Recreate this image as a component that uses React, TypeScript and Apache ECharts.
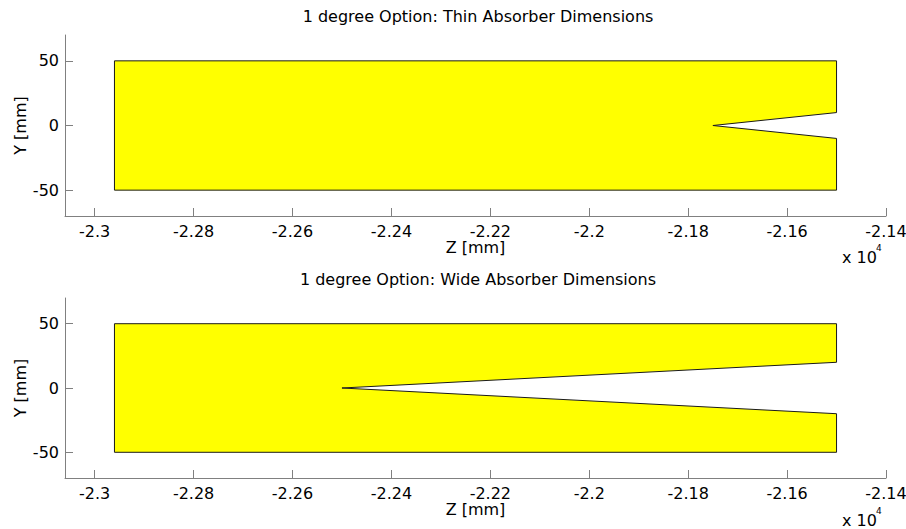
import React, { useEffect, useRef } from "react";
import * as echarts from "echarts";

const titles = [
  "1 degree Option: Thin Absorber Dimensions",
  "1 degree Option: Wide Absorber Dimensions",
];
const xTickValues = [-23000, -22800, -22600, -22400, -22200, -22000, -21800, -21600, -21400];
const xTickLabels = ["-2.3", "-2.28", "-2.26", "-2.24", "-2.22", "-2.2", "-2.18", "-2.16", "-2.14"];
const yTickValues = [-50, 0, 50];
const yTickLabels = ["-50", "0", "50"];

const thinZ = [-22960, -21500, -21500, -21750, -21500, -21500, -22960];
const thinY = [50, 50, 10, 0, -10, -50, -50];
const wideZ = [-22960, -21500, -21500, -22500, -21500, -21500, -22960];
const wideY = [50, 50, 20, 0, -20, -50, -50];

const FONT = "DejaVu Sans";
const FS = 16;

export default function App() {
  const ref = useRef<HTMLDivElement>(null);
  useEffect(() => {
    const chart = echarts.init(ref.current!, null, { renderer: "svg" });
    const grids = [
      { left: 65, right: 20, top: 35, height: 181, outerBoundsMode: "none", containLabel: false },
      { left: 65, right: 20, top: 298, height: 180, outerBoundsMode: "none", containLabel: false },
    ];
    const mkX = (i: number) => ({
      type: "value",
      gridIndex: i,
      min: -23060,
      max: -21400,
      name: "Z [mm]",
      nameLocation: "middle",
      nameGap: 21,
      nameTextStyle: { color: "#000", fontFamily: FONT, fontSize: FS },
      splitLine: { show: false },
      axisLine: { show: true, onZero: false, lineStyle: { color: "#808080", width: 1 } },
      axisTick: {
        show: true,
        inside: true,
        length: 8,
        customValues: xTickValues,
        lineStyle: { color: "#808080" },
      },
      axisLabel: {
        customValues: xTickValues,
        color: "#000",
        fontFamily: FONT,
        fontSize: FS,
        margin: 7,
        hideOverlap: false,
        formatter: (v: number) => {
          const k = xTickValues.findIndex((t) => Math.abs(t - v) < 1e-6);
          return k >= 0 ? xTickLabels[k] : "";
        },
      },
    });
    const mkY = (i: number) => ({
      type: "value",
      gridIndex: i,
      min: -70,
      max: 70,
      name: "Y [mm]",
      nameLocation: "middle",
      nameGap: 37,
      nameMoveOverlap: false,
      nameTextStyle: { color: "#000", fontFamily: FONT, fontSize: FS },
      splitLine: { show: false },
      axisLine: { show: true, onZero: false, lineStyle: { color: "#808080", width: 1 } },
      axisTick: {
        show: true,
        inside: true,
        length: 8,
        customValues: yTickValues,
        lineStyle: { color: "#808080" },
      },
      axisLabel: {
        customValues: yTickValues,
        color: "#000",
        fontFamily: FONT,
        fontSize: FS,
        margin: 6,
        formatter: (v: number) => {
          const k = yTickValues.findIndex((t) => Math.abs(t - v) < 1e-6);
          return k >= 0 ? yTickLabels[k] : "";
        },
      },
    });
    const mkSeries = (i: number, zs: number[], ys: number[]) => ({
      type: "custom",
      xAxisIndex: i,
      yAxisIndex: i,
      silent: true,
      data: [[zs[0], ys[0]]],
      renderItem: (_p: any, api: any) => {
        const points = zs.map((z, k) => api.coord([z, ys[k]]));
        return {
          type: "polygon",
          shape: { points },
          style: { fill: "#ffff00", stroke: "#1a1a1a", lineWidth: 1 },
        };
      },
    });
    const expo = (top: number) => [
      {
        type: "text",
        left: 842,
        top: top,
        style: { text: "x 10", fontFamily: FONT, fontSize: FS, fill: "#000" },
      },
      {
        type: "text",
        left: 876,
        top: top - 6,
        style: { text: "4", fontFamily: FONT, fontSize: 9, fill: "#000" },
      },
    ];
    chart.setOption({
      animation: false,
      backgroundColor: "#fff",
      title: [
        {
          text: titles[0],
          left: 473,
          textAlign: "center",
          top: 3,
          textStyle: { fontFamily: FONT, fontSize: FS, fontWeight: "normal", color: "#000" },
        },
        {
          text: titles[1],
          left: 473,
          textAlign: "center",
          top: 266,
          textStyle: { fontFamily: FONT, fontSize: FS, fontWeight: "normal", color: "#000" },
        },
      ],
      grid: grids,
      xAxis: [mkX(0), mkX(1)],
      yAxis: [mkY(0), mkY(1)],
      series: [mkSeries(0, thinZ, thinY), mkSeries(1, wideZ, wideY)],
      graphic: [...expo(249), ...expo(512)],
    });
    return () => chart.dispose();
  }, []);
  return <div ref={ref} style={{ width: 906, height: 529, position: "absolute", left: 0, top: 0 }} />;
}
